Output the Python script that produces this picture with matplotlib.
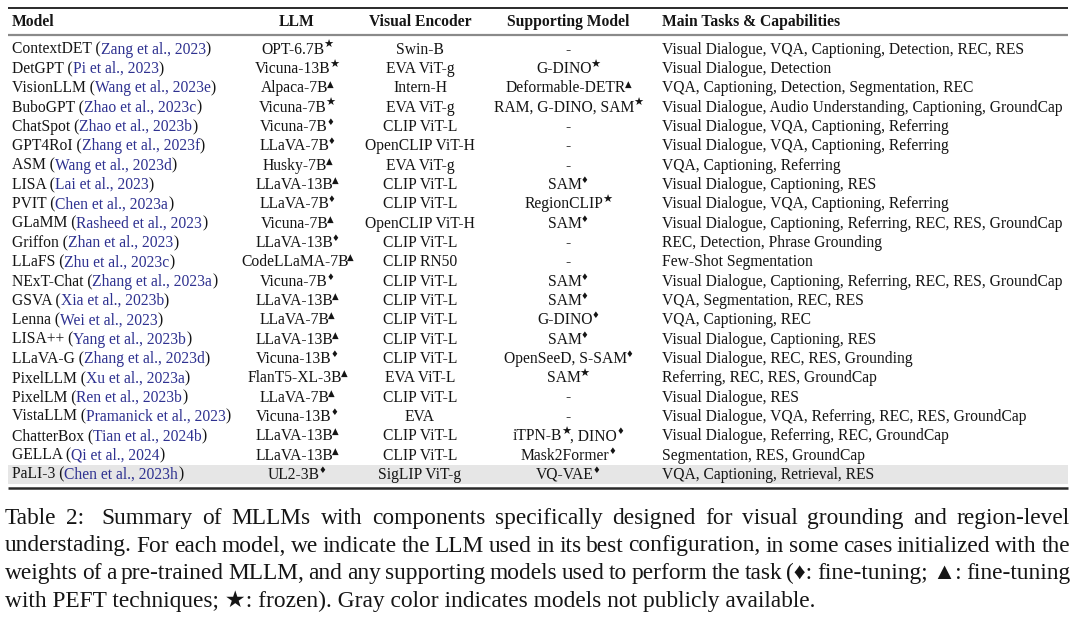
import matplotlib
matplotlib.use("Agg")
import matplotlib.pyplot as plt

# ---------------- data ----------------
models = ["ContextDET", "DetGPT", "VisionLLM", "BuboGPT", "ChatSpot", "GPT4RoI", "ASM",
          "LISA", "PVIT", "GLaMM", "Griffon", "LLaFS", "NExT-Chat", "GSVA", "Lenna",
          "LISA++", "LLaVA-G", "PixelLLM", "PixelLM", "VistaLLM", "ChatterBox", "GELLA", "PaLI-3"]
citations = ["Zang et al., 2023", "Pi et al., 2023", "Wang et al., 2023e", "Zhao et al., 2023c",
             "Zhao et al., 2023b", "Zhang et al., 2023f", "Wang et al., 2023d", "Lai et al., 2023",
             "Chen et al., 2023a", "Rasheed et al., 2023", "Zhan et al., 2023", "Zhu et al., 2023c",
             "Zhang et al., 2023a", "Xia et al., 2023b", "Wei et al., 2023", "Yang et al., 2023b",
             "Zhang et al., 2023d", "Xu et al., 2023a", "Ren et al., 2023b", "Pramanick et al., 2023",
             "Tian et al., 2024b", "Qi et al., 2024", "Chen et al., 2023h"]
llms = ["OPT-6.7B★", "Vicuna-13B★", "Alpaca-7B▲", "Vicuna-7B★", "Vicuna-7B♦", "LLaVA-7B♦",
        "Husky-7B▲", "LLaVA-13B▲", "LLaVA-7B♦", "Vicuna-7B▲", "LLaVA-13B♦", "CodeLLaMA-7B▲",
        "Vicuna-7B♦", "LLaVA-13B▲", "LLaVA-7B▲", "LLaVA-13B▲", "Vicuna-13B♦", "FlanT5-XL-3B▲",
        "LLaVA-7B▲", "Vicuna-13B♦", "LLaVA-13B▲", "LLaVA-13B▲", "UL2-3B♦"]
encoders = ["Swin-B", "EVA ViT-g", "Intern-H", "EVA ViT-g", "CLIP ViT-L", "OpenCLIP ViT-H",
            "EVA ViT-g", "CLIP ViT-L", "CLIP ViT-L", "OpenCLIP ViT-H", "CLIP ViT-L", "CLIP RN50",
            "CLIP ViT-L", "CLIP ViT-L", "CLIP ViT-L", "CLIP ViT-L", "CLIP ViT-L", "EVA ViT-L",
            "CLIP ViT-L", "EVA", "CLIP ViT-L", "CLIP ViT-L", "SigLIP ViT-g"]
supporting = ["-", "G-DINO★", "Deformable-DETR▲", "RAM, G-DINO, SAM★", "-", "-", "-", "SAM♦",
              "RegionCLIP★", "SAM♦", "-", "-", "SAM♦", "SAM♦", "G-DINO♦", "SAM♦",
              "OpenSeeD, S-SAM♦", "SAM★", "-", "-", "iTPN-B★, DINO♦", "Mask2Former♦", "VQ-VAE♦"]
tasks = ["Visual Dialogue, VQA, Captioning, Detection, REC, RES",
         "Visual Dialogue, Detection",
         "VQA, Captioning, Detection, Segmentation, REC",
         "Visual Dialogue, Audio Understanding, Captioning, GroundCap",
         "Visual Dialogue, VQA, Captioning, Referring",
         "Visual Dialogue, VQA, Captioning, Referring",
         "VQA, Captioning, Referring",
         "Visual Dialogue, Captioning, RES",
         "Visual Dialogue, VQA, Captioning, Referring",
         "Visual Dialogue, Captioning, Referring, REC, RES, GroundCap",
         "REC, Detection, Phrase Grounding",
         "Few-Shot Segmentation",
         "Visual Dialogue, Captioning, Referring, REC, RES, GroundCap",
         "VQA, Segmentation, REC, RES",
         "VQA, Captioning, REC",
         "Visual Dialogue, Captioning, RES",
         "Visual Dialogue, REC, RES, Grounding",
         "Referring, REC, RES, GroundCap",
         "Visual Dialogue, RES",
         "Visual Dialogue, VQA, Referring, REC, RES, GroundCap",
         "Visual Dialogue, Referring, REC, GroundCap",
         "Segmentation, RES, GroundCap",
         "VQA, Captioning, Retrieval, RES"]
not_public = [False] * 22 + [True]
headers = ["Model", "LLM", "Visual Encoder", "Supporting Model", "Main Tasks & Capabilities"]
caption_lines = [
    "Table 2:  Summary of MLLMs with components specifically designed for visual grounding and region-level",
    "understading. For each model, we indicate the LLM used in its best configuration, in some cases initialized with the",
    "weights of a pre-trained MLLM, and any supporting models used to perform the task (♦: fine-tuning; ▲: fine-tuning",
    "with PEFT techniques; ★: frozen). Gray color indicates models not publicly available.",
]

# ---------------- style ----------------
SERIF = ["Liberation Serif", "DejaVu Serif"]
SYMF = ["DejaVu Sans"]
CAPF = ["Liberation Serif", "DejaVu Sans"]
TXT = "#151515"
CITE = "#2e3190"
SYMS = "★♦▲"

W, H = 1080, 618
fig = plt.figure(figsize=(W / 100, H / 100), dpi=100)
ax = fig.add_axes([0, 0, 1, 1])
ax.set_xlim(0, W)
ax.set_ylim(H, 0)
ax.axis("off")
renderer = fig.canvas.get_renderer()


def measure(s, size, family, weight="normal"):
    t = ax.text(0, 0, s, fontsize=size, family=family, weight=weight)
    w = t.get_window_extent(renderer).width
    t.remove()
    return w


# fit font sizes to reference widths
BODY = 10.0 * 362 / measure(tasks[0], 10.0, SERIF)
CAP = 14.0 * 813 / measure(caption_lines[3], 14.0, CAPF)
SUP_SIZE = {"★": BODY * 0.72, "♦": BODY * 0.55, "▲": BODY * 0.55}
SUP_RAISE = {"★": 5.5, "♦": 6.0, "▲": 6.0}


def split_runs(s, color):
    out, buf = [], ""
    for ch in s:
        if ch in SYMS:
            if buf:
                out.append((buf, color, False))
                buf = ""
            out.append((ch, color, True))
        else:
            buf += ch
    if buf:
        out.append((buf, color, False))
    return out


def draw_runs(x, y, runs, ha="left", weight="normal"):
    widths = []
    for txt, col, sup in runs:
        if sup:
            widths.append(measure(txt, SUP_SIZE[txt], SYMF) - 2.0)
        else:
            widths.append(measure(txt, BODY, SERIF, weight))
    total = sum(widths)
    x0 = x - total / 2 if ha == "center" else x
    for (txt, col, sup), w in zip(runs, widths):
        if sup:
            ax.text(x0 - 1.2, y - SUP_RAISE[txt], txt, fontsize=SUP_SIZE[txt], family=SYMF,
                    color=col, va="baseline", ha="left")
        else:
            ax.text(x0, y, txt, fontsize=BODY, family=SERIF, color=col, weight=weight,
                    va="baseline", ha="left")
        x0 += w


# column geometry
X_MODEL, X_LLM, X_ENC, X_SUP, X_TASK = 12, 297, 420, 568, 662
X_L, X_R = 8, 1068
ROW0, DY = 49.0, 19.32
BASE = 4.8  # baseline offset from row centre

# rules
ax.plot([X_L, X_R], [7.5, 7.5], color="#2a2a2a", lw=1.4, solid_capstyle="butt")
ax.plot([X_L, X_R], [34.5, 34.5], color="#8a8a8a", lw=1.6, solid_capstyle="butt")

# header
hy = 21 + BASE
draw_runs(X_MODEL, hy, [(headers[0], TXT, False)], weight="bold")
draw_runs(X_LLM, hy, [(headers[1], TXT, False)], ha="center", weight="bold")
draw_runs(X_ENC, hy, [(headers[2], TXT, False)], ha="center", weight="bold")
draw_runs(X_SUP, hy, [(headers[3], TXT, False)], ha="center", weight="bold")
draw_runs(X_TASK, hy, [(headers[4], TXT, False)], weight="bold")

# rows
for i in range(len(models)):
    yc = ROW0 + i * DY
    if not_public[i]:
        ax.add_patch(plt.Rectangle((X_L, yc - 9.5), X_R - X_L, 19.2,
                                   facecolor="#e6e6e6", edgecolor="none", zorder=0))
    y = yc + BASE
    head = models[i] + " ("
    ax.text(X_MODEL, y, head, fontsize=BODY, family=SERIF, color=TXT, va="baseline")
    xc = X_MODEL + measure(head, BODY, SERIF)
    ax.text(xc, y, citations[i], fontsize=BODY, family=SERIF, color=CITE, va="baseline")
    xc += measure(citations[i], BODY, SERIF)
    ax.text(xc, y, ")", fontsize=BODY, family=SERIF, color=TXT, va="baseline")

    draw_runs(X_LLM, y, split_runs(llms[i], TXT), ha="center")
    draw_runs(X_ENC, y, split_runs(encoders[i], TXT), ha="center")
    draw_runs(X_SUP, y, split_runs(supporting[i], TXT), ha="center")
    ax.text(X_TASK, y, tasks[i], fontsize=BODY, family=SERIF, color=TXT, va="baseline")

y_bottom = ROW0 + (len(models) - 1) * DY + 14
ax.plot([X_L, X_R], [y_bottom, y_bottom], color="#2a2a2a", lw=1.8, solid_capstyle="butt")

# caption (justified, last line ragged)
CAP_Y = [518, 545.5, 573, 600.5]
CX0, CX1 = 5, 1070
for k, line in enumerate(caption_lines):
    yb = CAP_Y[k] + 6
    if k == len(caption_lines) - 1:
        ax.text(CX0, yb, line, fontsize=CAP, family=CAPF, color=TXT, va="baseline")
        continue
    words = [w for w in line.split(" ") if w != ""]
    ws = [measure(w, CAP, CAPF) for w in words]
    extra = 8 if k == 0 else 0
    gap = (CX1 - CX0 - sum(ws) - extra) / (len(words) - 1)
    x = CX0
    for j, (w, wd) in enumerate(zip(words, ws)):
        ax.text(x, yb, w, fontsize=CAP, family=CAPF, color=TXT, va="baseline")
        x += wd + gap
        if k == 0 and j == 1:
            x += extra

fig.savefig("out.png", dpi=100, facecolor="white")
